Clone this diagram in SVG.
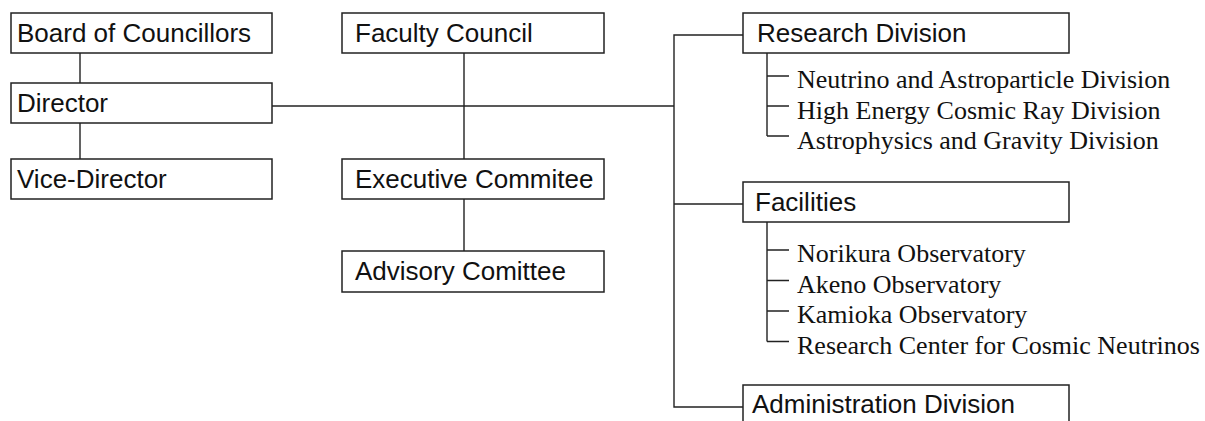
<svg xmlns="http://www.w3.org/2000/svg" width="1205" height="421" viewBox="0 0 1205 421">
<style>
.box{fill:#fff;stroke:#222;stroke-width:1.5}
.lbl{font-family:"Liberation Sans",Arial,sans-serif;font-size:26px;fill:#111}
.sub{font-family:"Liberation Serif","Times New Roman",serif;font-size:26px;fill:#111}
.ln{fill:none;stroke:#222;stroke-width:1.4}
</style>
<rect width="1205" height="421" fill="#fff"/>
<g id="connectors">
<path class="ln" d="M80,53V83M80,123V159"/>
<path class="ln" d="M464,53V159M464,199V251"/>
<path class="ln" d="M272,106H674"/>
<path class="ln" d="M743,35H674V407H743M674,204H743"/>
<path class="ln" d="M767,53V136M767,76H789M767,106H789M767,136H789"/>
<path class="ln" d="M767,222V341.5M767,250H789M767,280.5H789M767,311H789M767,341.5H789"/>
</g>
<g id="board"><rect class="box" x="11" y="13" width="261" height="40"/><text class="lbl" x="17" y="42">Board of Councillors</text></g>
<g id="director"><rect class="box" x="11" y="83" width="261" height="40"/><text class="lbl" x="17" y="112">Director</text></g>
<g id="vice-director"><rect class="box" x="11" y="159" width="261" height="40"/><text class="lbl" x="17" y="188">Vice-Director</text></g>
<g id="faculty"><rect class="box" x="342" y="13" width="262" height="40"/><text class="lbl" x="355" y="42">Faculty Council</text></g>
<g id="executive"><rect class="box" x="342" y="159" width="262" height="40"/><text class="lbl" x="355" y="188">Executive Commitee</text></g>
<g id="advisory"><rect class="box" x="342" y="251" width="262" height="41"/><text class="lbl" x="355" y="280">Advisory Comittee</text></g>
<g id="research"><rect class="box" x="743" y="13" width="326" height="40"/><text class="lbl" x="757" y="42">Research Division</text>
<text class="sub" x="797" y="88">Neutrino and Astroparticle Division</text>
<text class="sub" x="797" y="118.5">High Energy Cosmic Ray Division</text>
<text class="sub" x="797" y="149">Astrophysics and Gravity Division</text></g>
<g id="facilities"><rect class="box" x="743" y="182" width="326" height="40"/><text class="lbl" x="755" y="211">Facilities</text>
<text class="sub" x="797" y="262">Norikura Observatory</text>
<text class="sub" x="797" y="292.5">Akeno Observatory</text>
<text class="sub" x="797" y="323">Kamioka Observatory</text>
<text class="sub" x="797" y="353.5">Research Center for Cosmic Neutrinos</text></g>
<g id="administration"><rect class="box" x="743" y="385" width="326" height="40"/><text class="lbl" x="752" y="413">Administration Division</text></g>
</svg>
